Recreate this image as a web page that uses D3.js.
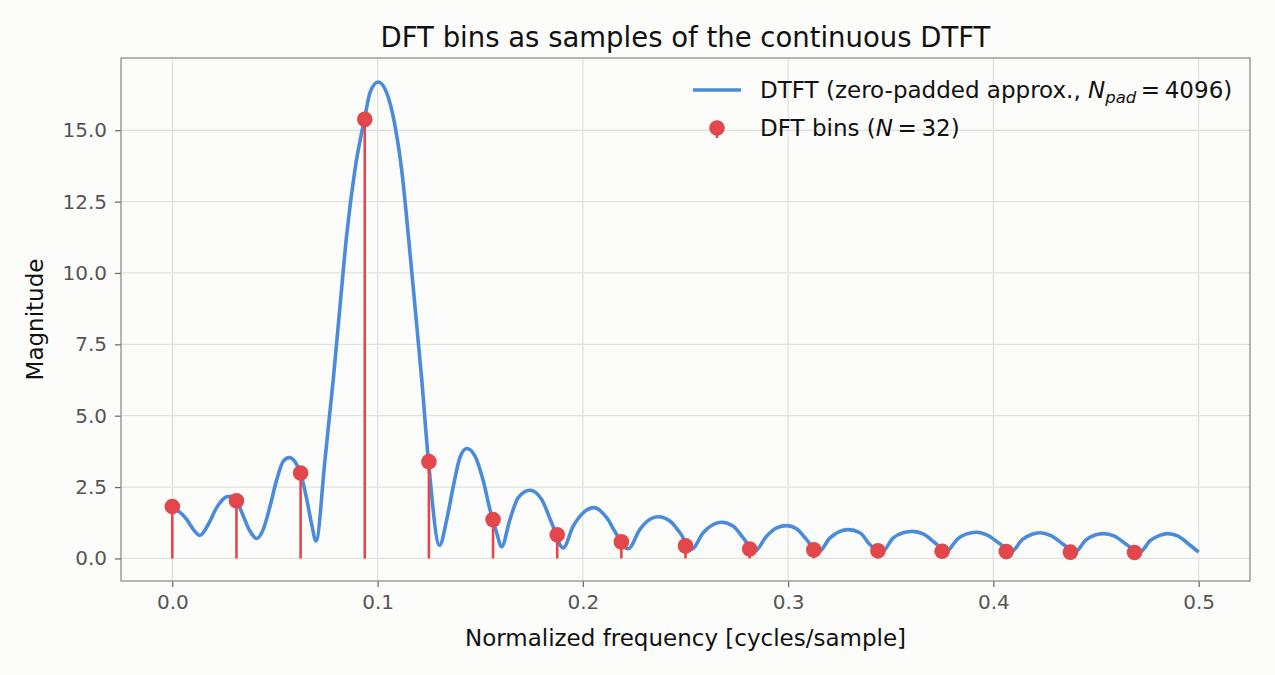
<!DOCTYPE html>
<html>
<head>
<meta charset="utf-8">
<script src="https://cdn.jsdelivr.net/npm/d3@7"></script>
<style>
  html, body { margin: 0; padding: 0; background: #fcfcfa; }
  svg { display: block; font-family: "DejaVu Sans", sans-serif; }
</style>
</head>
<body>
<div id="chart"></div>
<script>
// DFT bins (N = 32), k = 0..15
const binFreq = [0, 0.03125, 0.0625, 0.09375, 0.125, 0.15625, 0.1875, 0.21875,
                 0.25, 0.28125, 0.3125, 0.34375, 0.375, 0.40625, 0.4375, 0.46875];
const binMag  = [1.82, 2.02, 2.99, 15.38, 3.39, 1.36, 0.83, 0.58,
                 0.44, 0.33, 0.30, 0.27, 0.25, 0.24, 0.22, 0.21];

// DTFT curve
const dtftFreq = [0, 0.007, 0.0102, 0.0135, 0.0175, 0.0216, 0.0265, 0.0285, 0.03125, 0.0346,
  0.0378, 0.0411, 0.0443, 0.0476, 0.0509, 0.0541, 0.057, 0.0606, 0.0625, 0.0655,
  0.0679, 0.07, 0.0744, 0.0784, 0.0817, 0.0849, 0.089, 0.0939, 0.0963, 0.1003,
  0.1044, 0.1085, 0.1117, 0.115, 0.1182, 0.1215, 0.1247, 0.1302, 0.1337, 0.1369,
  0.1401, 0.1434, 0.1474, 0.1515, 0.1547, 0.158, 0.1604, 0.1645, 0.1685, 0.1742,
  0.1799, 0.1848, 0.1904, 0.1953, 0.2002, 0.2054, 0.2116, 0.2165, 0.2221, 0.2278,
  0.2327, 0.2367, 0.2424, 0.2473, 0.253, 0.2586, 0.2635, 0.2676, 0.2733, 0.2781,
  0.2838, 0.2895, 0.2944, 0.2993, 0.3041, 0.309, 0.3147, 0.3204, 0.3252, 0.3293,
  0.335, 0.3398, 0.3455, 0.3512, 0.356, 0.3607, 0.366, 0.3715, 0.377, 0.3825,
  0.387, 0.3918, 0.397, 0.403, 0.4088, 0.414, 0.4185, 0.4227, 0.428, 0.434,
  0.4398, 0.445, 0.4495, 0.4535, 0.459, 0.465, 0.4712, 0.4765, 0.481, 0.4847,
  0.49, 0.4955, 0.5];
const dtftMag = [1.82, 1.37, 1.02, 0.81, 1.19, 1.78, 2.16, 2.18, 2.03, 1.48,
  0.96, 0.70, 1.02, 1.83, 2.77, 3.41, 3.53, 3.29, 2.98, 2.07,
  1.19, 0.61, 3.47, 6.27, 8.84, 11.3, 13.63, 15.5, 16.32, 16.69,
  16.32, 15.15, 13.63, 11.3, 8.84, 6.27, 3.47, 0.46, 1.37, 2.53,
  3.53, 3.85, 3.59, 2.71, 1.72, 0.90, 0.41, 1.37, 2.13, 2.39,
  2.07, 1.25, 0.37, 1.13, 1.60, 1.78, 1.43, 0.84, 0.34, 1.02,
  1.37, 1.46, 1.31, 0.90, 0.32, 0.90, 1.19, 1.27, 1.13, 0.72,
  0.26, 0.78, 1.07, 1.15, 1.04, 0.66, 0.22, 0.72, 0.95, 1.01,
  0.90, 0.49, 0.22, 0.72, 0.90, 0.95, 0.85, 0.55, 0.24, 0.68,
  0.86, 0.92, 0.82, 0.52, 0.24, 0.66, 0.84, 0.90, 0.80, 0.50,
  0.23, 0.64, 0.82, 0.87, 0.78, 0.48, 0.22, 0.63, 0.81, 0.87,
  0.78, 0.48, 0.22];

const xTicks = [0, 0.1, 0.2, 0.3, 0.4, 0.5];
const yTicks = [0, 2.5, 5, 7.5, 10, 12.5, 15];

const width = 1275, height = 675;
const plot = {left: 121, right: 1250, top: 58, bottom: 581};
const lineColor = "#4a8bdb", stemColor = "#e2474b", gridColor = "#e2e2dd";

const svg = d3.select("#chart").append("svg")
    .attr("width", width)
    .attr("height", height);

svg.append("rect").attr("width", width).attr("height", height).attr("fill", "#fcfcfa");

const x = d3.scaleLinear().domain([-0.025, 0.525]).range([plot.left, plot.right]);
const y = d3.scaleLinear().domain([-0.79, 17.53]).range([plot.bottom, plot.top]);

// grid
const grid = svg.append("g");
grid.selectAll(".gx").data(xTicks).enter().append("line")
    .attr("x1", d => x(d)).attr("x2", d => x(d))
    .attr("y1", plot.top).attr("y2", plot.bottom)
    .attr("stroke", gridColor).attr("stroke-width", 1.3);
grid.selectAll(".gy").data(yTicks).enter().append("line")
    .attr("x1", plot.left).attr("x2", plot.right)
    .attr("y1", d => y(d)).attr("y2", d => y(d))
    .attr("stroke", gridColor).attr("stroke-width", 1.3);

// axes
const xAxis = svg.append("g")
    .attr("transform", "translate(0," + plot.bottom + ")")
    .call(d3.axisBottom(x).tickValues(xTicks).tickFormat(d3.format(".1f")).tickSizeOuter(0).tickSize(6).tickPadding(8));
const yAxis = svg.append("g")
    .attr("transform", "translate(" + plot.left + ",0)")
    .call(d3.axisLeft(y).tickValues(yTicks).tickFormat(d3.format(".1f")).tickSizeOuter(0).tickSize(6).tickPadding(8));

[xAxis, yAxis].forEach(function(a){
    a.select(".domain").remove();
    a.selectAll(".tick line").attr("stroke", "#666").attr("stroke-width", 1.2);
    a.selectAll(".tick text").attr("fill", "#555").attr("font-size", 20)
        .attr("font-family", "DejaVu Sans");
});

// frame
svg.append("rect")
    .attr("x", plot.left).attr("y", plot.top)
    .attr("width", plot.right - plot.left).attr("height", plot.bottom - plot.top)
    .attr("fill", "none").attr("stroke", "#8e8e8a").attr("stroke-width", 1.3);

const body = svg.append("g");

// DTFT curve
const curve = dtftFreq.map((f, i) => [f, dtftMag[i]]);
body.append("path")
    .datum(curve)
    .attr("fill", "none")
    .attr("stroke", lineColor)
    .attr("stroke-width", 3.6)
    .attr("stroke-linejoin", "round")
    .attr("d", d3.line().x(d => x(d[0])).y(d => y(d[1])).curve(d3.curveMonotoneX));

// stems
const bins = binFreq.map((f, i) => ({f: f, m: binMag[i]}));
body.selectAll(".stem").data(bins).enter().append("line")
    .attr("x1", d => x(d.f)).attr("x2", d => x(d.f))
    .attr("y1", y(0)).attr("y2", d => y(d.m))
    .attr("stroke", stemColor).attr("stroke-width", 2.6);
body.selectAll(".dot").data(bins).enter().append("circle")
    .attr("cx", d => x(d.f)).attr("cy", d => y(d.m))
    .attr("r", 7.8)
    .attr("fill", stemColor);

// title and labels
svg.append("text")
    .attr("x", (plot.left + plot.right) / 2).attr("y", 47)
    .attr("text-anchor", "middle").attr("font-size", 27.5).attr("fill", "#111")
    .text("DFT bins as samples of the continuous DTFT");
svg.append("text")
    .attr("x", (plot.left + plot.right) / 2).attr("y", 646)
    .attr("text-anchor", "middle").attr("font-size", 23).attr("fill", "#111")
    .text("Normalized frequency [cycles/sample]");
svg.append("text")
    .attr("transform", "translate(43," + ((plot.top + plot.bottom) / 2) + ") rotate(-90)")
    .attr("text-anchor", "middle").attr("font-size", 23).attr("fill", "#111")
    .text("Magnitude");

// legend
const legend = svg.append("g").attr("font-size", 23).attr("fill", "#111");
legend.append("line")
    .attr("x1", 693).attr("x2", 741).attr("y1", 90).attr("y2", 90)
    .attr("stroke", lineColor).attr("stroke-width", 3.6);
const t1 = legend.append("text").attr("x", 760).attr("y", 98);
t1.append("tspan").text("DTFT (zero-padded approx., ");
t1.append("tspan").attr("font-style", "italic").text("N");
t1.append("tspan").attr("font-style", "italic").attr("font-size", 16.5).attr("dy", 4.5).text("pad");
t1.append("tspan").attr("dy", -4.5).text("\u2009=\u20094096)");

legend.append("line")
    .attr("x1", 717).attr("x2", 717).attr("y1", 128).attr("y2", 138)
    .attr("stroke", stemColor).attr("stroke-width", 2.6);
legend.append("circle").attr("cx", 717).attr("cy", 128).attr("r", 7.8).attr("fill", stemColor);
const t2 = legend.append("text").attr("x", 760).attr("y", 136);
t2.append("tspan").text("DFT bins (");
t2.append("tspan").attr("font-style", "italic").text("N");
t2.append("tspan").text("\u2009=\u200932)");
</script>
</body>
</html>
